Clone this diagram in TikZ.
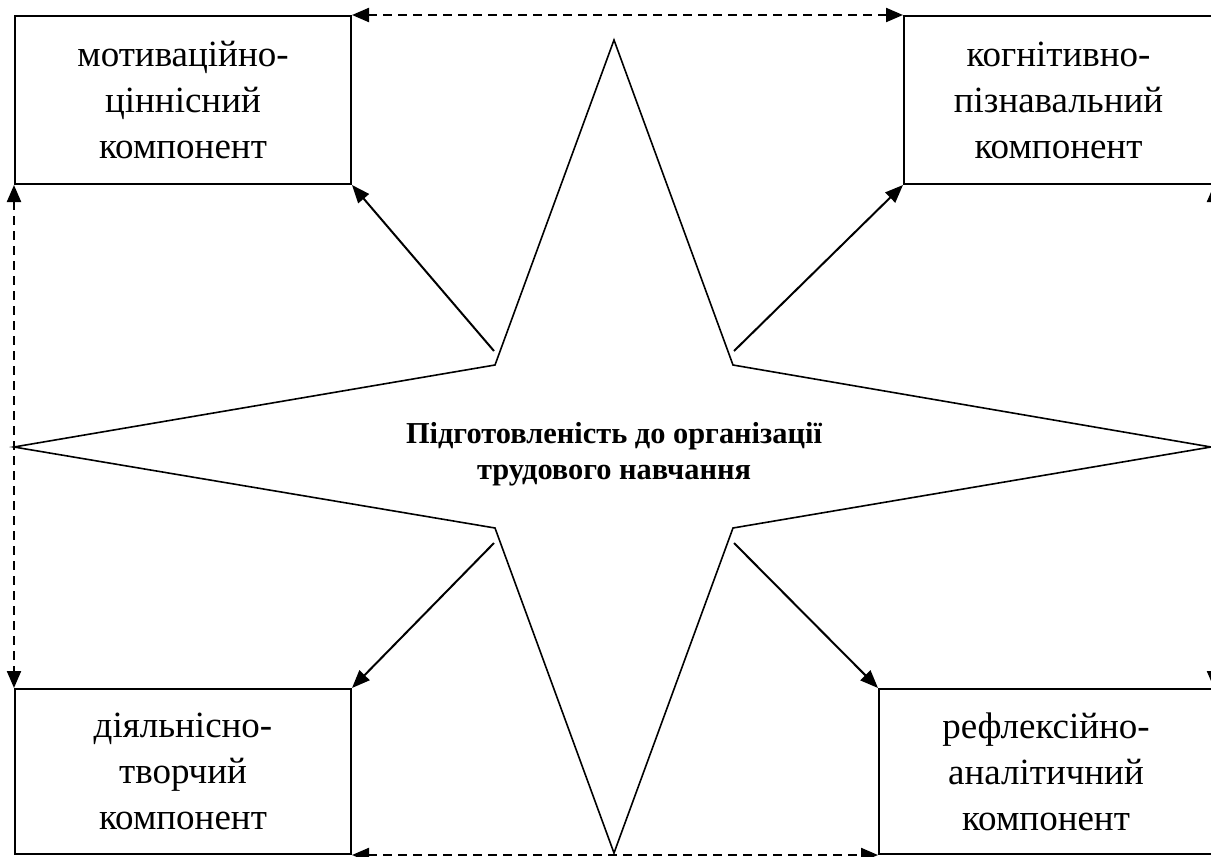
\documentclass[tikz,border=0pt]{standalone}
\usepackage{fontspec}
\setmainfont{Liberation Serif}
\usetikzlibrary{arrows.meta}

\tikzset{
  comp/.style={draw, line width=2pt, minimum width=336pt, minimum height=168pt,
    inner sep=0pt, align=center, font=\fontsize{37}{46}\selectfont},
  link/.style={line width=2pt, -{Triangle[length=18pt,width=14pt]}},
  pair/.style={line width=2.2pt, dash pattern=on 9pt off 6pt,
    {Triangle[length=17pt,width=14pt]}-{Triangle[length=17pt,width=14pt]}},
  star/.style={line width=1.6pt},
}

\begin{document}
\begin{tikzpicture}[x=1pt,y=-1pt]
\clip (0,0) rectangle (1211,857);
\useasboundingbox (0,0) rectangle (1211,857);
% star
\draw[star] (614,40) -- (733,365) -- (1211,447) -- (733,528) -- (614,853)
  -- (495,528) -- (14,447) -- (495,365) -- cycle;
\node[align=center, font=\bfseries\fontsize{30.4}{36}\selectfont] (core) at (614,454)
  {Підготовленість до організації\\трудового навчання};
% components
\node[comp, anchor=north west] (mot) at (14,15) {мотиваційно-\\ціннісний\\компонент};
\node[comp, anchor=north west, minimum width=309pt] (cog) at (903,15) {когнітивно-\\пізнавальний\\компонент};
\node[comp, anchor=north west, minimum height=165pt] (act) at (14,688) {діяльнісно-\\творчий\\компонент};
\node[comp, anchor=north west, minimum width=334pt, minimum height=165pt] (ref) at (878,688) {рефлексійно-\\аналітичний\\компонент};
% arrows from the star
\coordinate (ul) at (494,351);
\coordinate (ur) at (734,351);
\coordinate (ll) at (494,543);
\coordinate (lr) at (734,543);
\draw[link] (ul) -- (mot.south east);
\draw[link] (ur) -- (cog.south west);
\draw[link] (ll) -- (act.north east);
\draw[link] (lr) -- (ref.north west);
% links between components
\draw[pair] (mot.north east) -- (cog.north west);
\draw[pair] (act.south east) -- (ref.south west);
\draw[pair] (mot.south west) -- (act.north west);
\draw[pair] (cog.south east) -- (ref.north east);
\end{tikzpicture}
\end{document}
